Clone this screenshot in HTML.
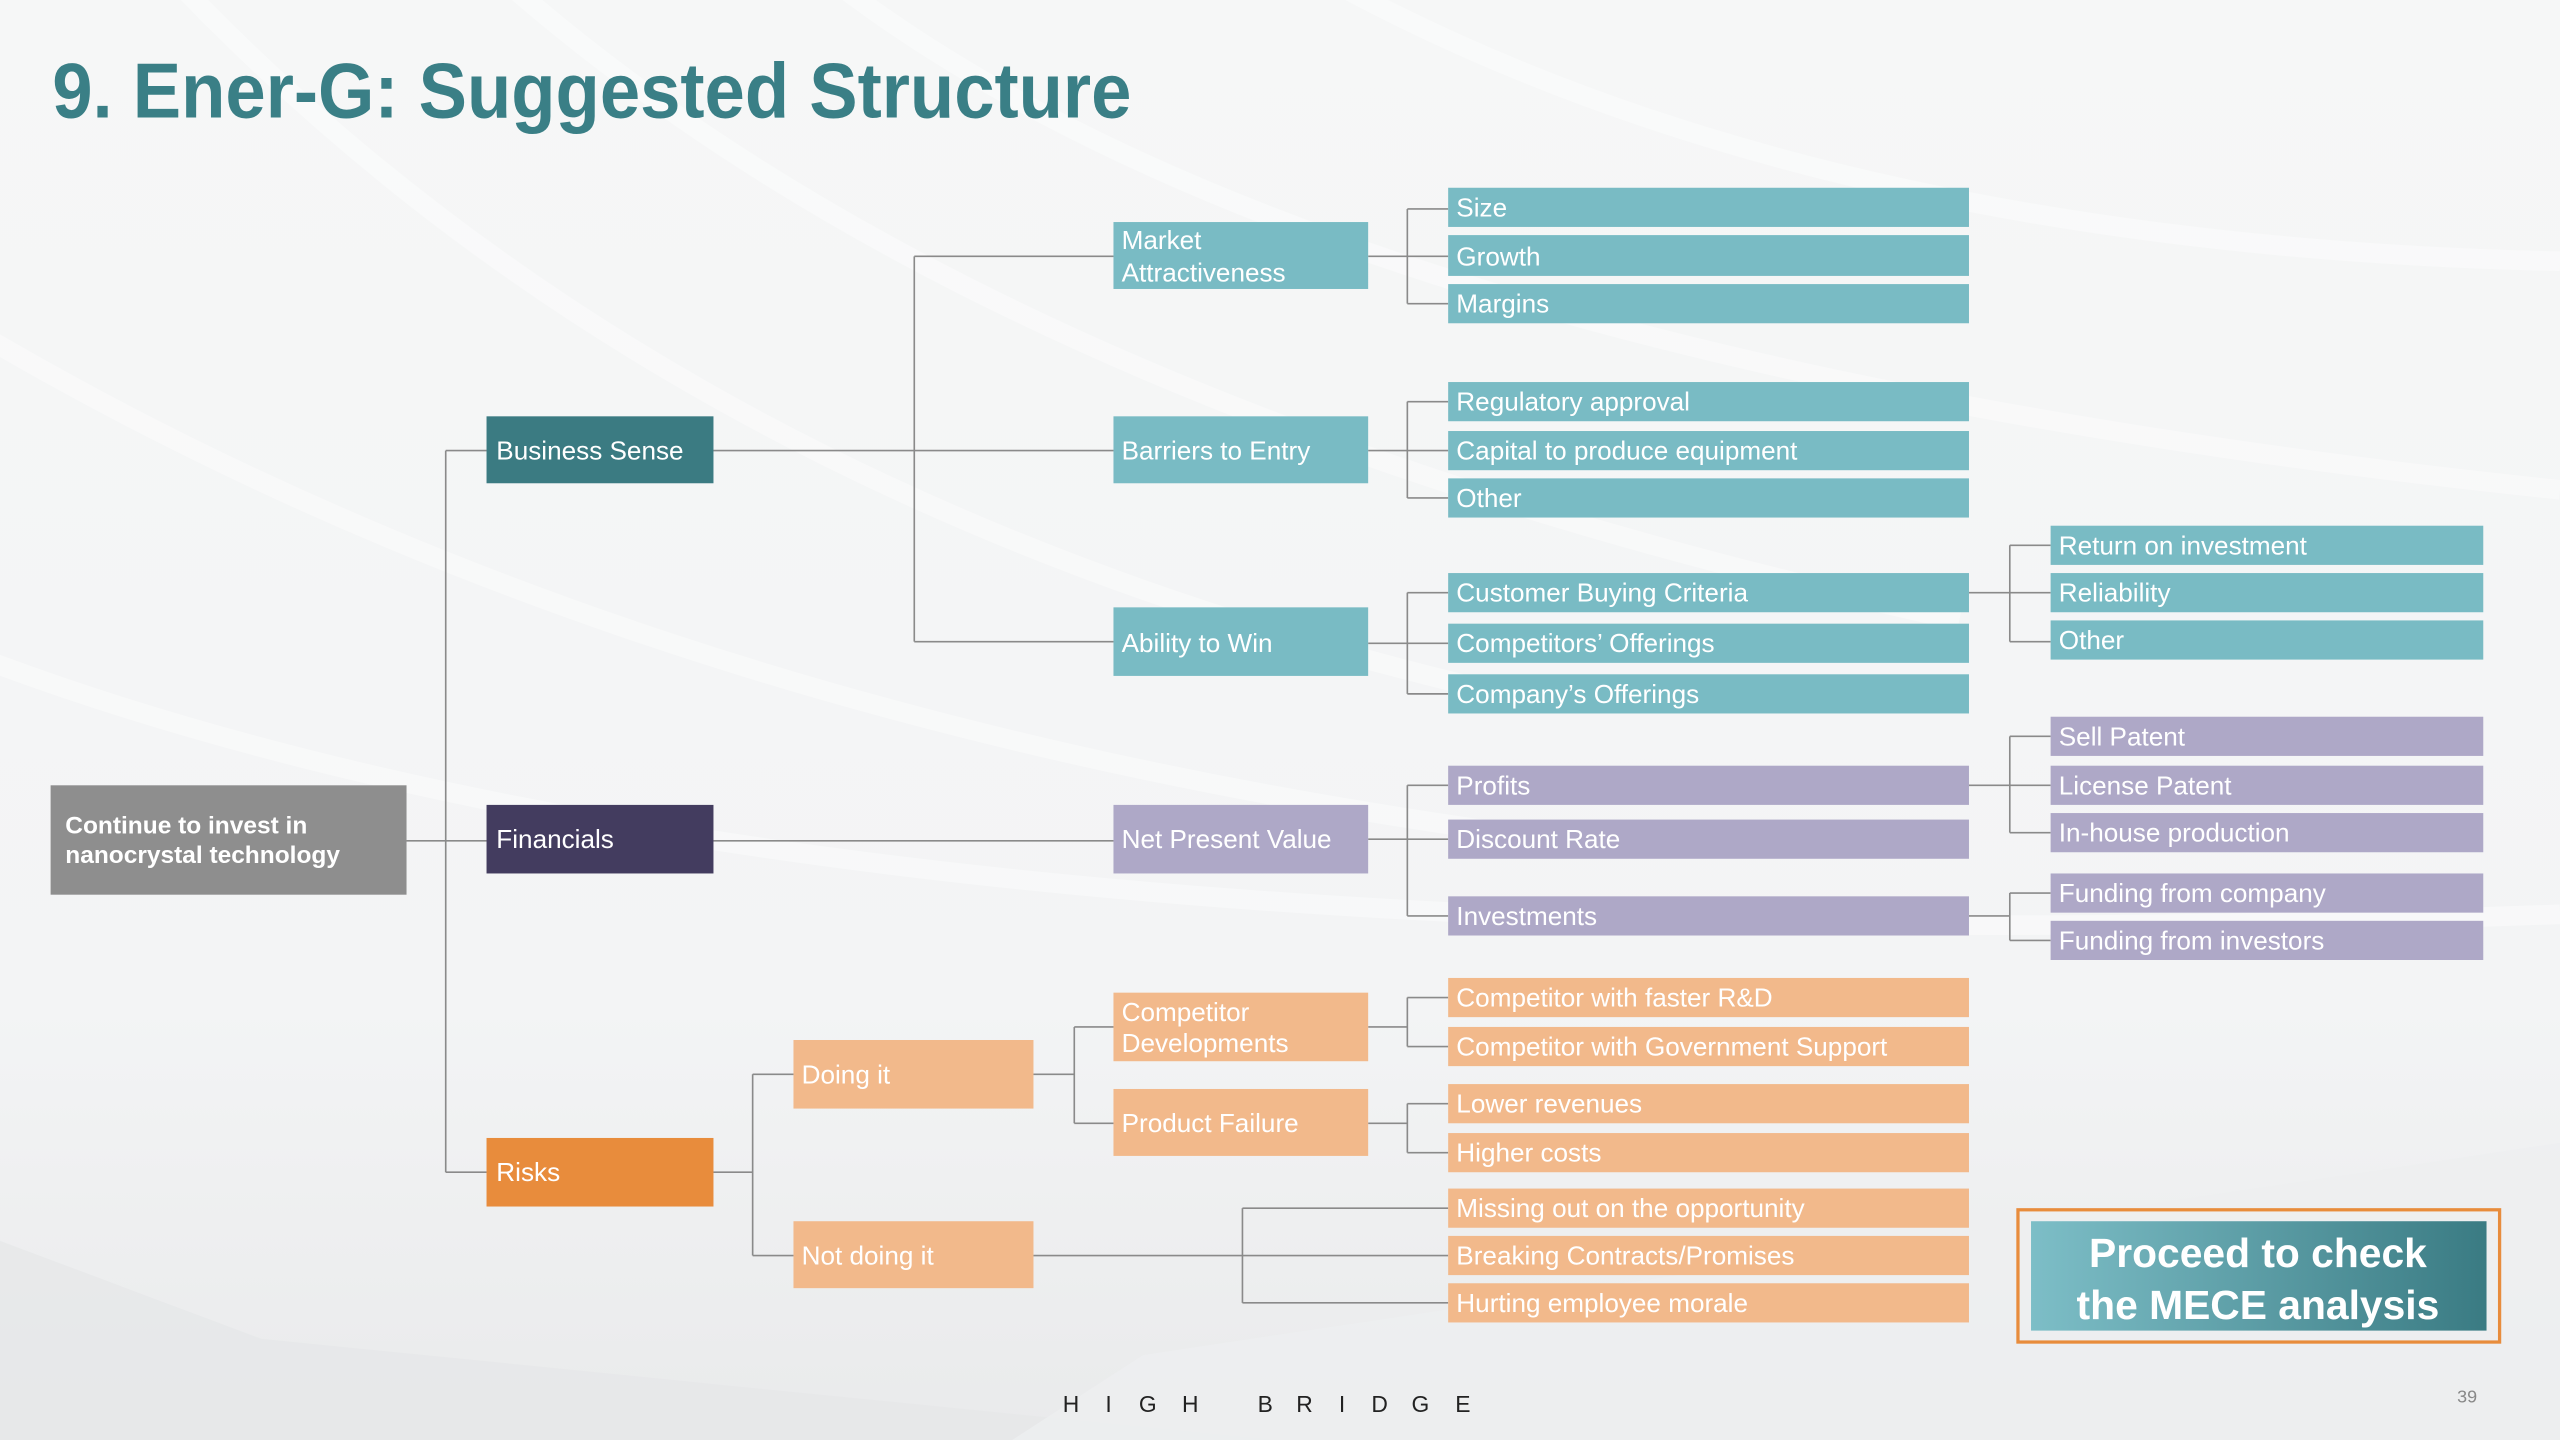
<!DOCTYPE html>
<html><head><meta charset="utf-8"><style>
html,body{margin:0;padding:0;width:2560px;height:1440px;overflow:hidden;background:#f3f4f5}
svg{display:block}
text{font-family:"Liberation Sans",sans-serif}
</style></head><body>
<svg width="2560" height="1440" viewBox="0 0 1568 882" xmlns="http://www.w3.org/2000/svg">
<defs>
<linearGradient id="bg" x1="0" y1="0" x2="0" y2="1">
<stop offset="0" stop-color="#f6f7f7"/><stop offset="0.7" stop-color="#f3f4f5"/><stop offset="1" stop-color="#e9eaeb"/>
</linearGradient>
<linearGradient id="btn" x1="0" y1="0" x2="1" y2="0">
<stop offset="0" stop-color="#7dbec7"/><stop offset="1" stop-color="#3a7b83"/>
</linearGradient>
</defs>
<rect width="1568" height="882" fill="url(#bg)"/>
<g stroke="#ffffff" stroke-width="12" fill="none" opacity="0.4">
<path d="M100 -20 Q400 300 900 420"/><path d="M300 -20 Q600 250 1200 380"/>
<path d="M500 -20 Q800 220 1568 300"/><path d="M-20 200 Q400 450 1000 520"/>
<path d="M-20 400 Q500 600 1568 560"/><path d="M800 -20 Q1100 150 1568 160"/>
</g>
<path d="M0 760 L160 820 L780 882 L0 882Z" fill="#e6e7e8" opacity="0.7"/>
<path d="M620 882 L700 830 L1568 700 L1568 882Z" fill="#eeeff0" opacity="0.8"/>

<text x="32" y="72" font-size="48" font-weight="bold" fill="#3a7f86" textLength="661" lengthAdjust="spacingAndGlyphs">9. Ener-G: Suggested Structure</text>

<g stroke="#8a8a8a" stroke-width="1" fill="none">
<path d="M249 515H298M273 276V718M273 276H298M273 718H298"/>
<path d="M437 276H682M560 157V393M560 157H682M560 393H682"/>
<path d="M838 157H862M862 128V186M862 128H887M862 157H887M862 186H887"/>
<path d="M838 276H862M862 246V305M862 246H887M862 276H887M862 305H887"/>
<path d="M838 394H862M862 363V425M862 363H887M862 394H887M862 425H887"/>
<path d="M1206 363H1256M1231 334V393M1231 334H1256M1231 393H1256"/>
<path d="M437 515H682M838 514H887M862 481V561M862 481H887M862 561H887"/>
<path d="M1206 481H1256M1231 451V510M1231 451H1256M1231 510H1256"/>
<path d="M1206 561H1231M1231 547V576M1231 547H1256M1231 576H1256"/>
<path d="M437 718H461M461 658V769M461 658H486M461 769H486"/>
<path d="M633 658H658M658 629V688M658 629H682M658 688H682"/>
<path d="M838 629H862M862 611V641M862 611H887M862 641H887"/>
<path d="M838 688H862M862 676V706M862 676H887M862 706H887"/>
<path d="M633 769H887M761 740V798M761 740H887M761 798H887"/>
</g>

<g font-size="16" fill="#fff" dominant-baseline="central">
<rect x="31" y="481" width="218" height="67" fill="#8e8e8e"/>
<text x="40" y="506" font-weight="bold" font-size="15">Continue to invest in</text>
<text x="40" y="524" font-weight="bold" font-size="15">nanocrystal technology</text>

<rect x="298" y="255" width="139" height="41" fill="#3b7b82"/><text x="304" y="276">Business Sense</text>
<rect x="298" y="493" width="139" height="42" fill="#433c5f"/><text x="304" y="514">Financials</text>
<rect x="298" y="697" width="139" height="42" fill="#e88c3c"/><text x="304" y="718">Risks</text>

<g fill="#79bbc4">
<rect x="682" y="136" width="156" height="41"/><rect x="682" y="255" width="156" height="41"/><rect x="682" y="372" width="156" height="42"/>
<rect x="887" y="115" width="319" height="24"/><rect x="887" y="144" width="319" height="25"/><rect x="887" y="174" width="319" height="24"/>
<rect x="887" y="234" width="319" height="24"/><rect x="887" y="264" width="319" height="24"/><rect x="887" y="293" width="319" height="24"/>
<rect x="887" y="351" width="319" height="24"/><rect x="887" y="382" width="319" height="24"/><rect x="887" y="413" width="319" height="24"/>
<rect x="1256" y="322" width="265" height="24"/><rect x="1256" y="351" width="265" height="24"/><rect x="1256" y="380" width="265" height="24"/>
</g>
<g fill="#aea8c7">
<rect x="682" y="493" width="156" height="42"/>
<rect x="887" y="469" width="319" height="24"/><rect x="887" y="502" width="319" height="24"/><rect x="887" y="549" width="319" height="24"/>
<rect x="1256" y="439" width="265" height="24"/><rect x="1256" y="469" width="265" height="24"/><rect x="1256" y="498" width="265" height="24"/>
<rect x="1256" y="535" width="265" height="24"/><rect x="1256" y="564" width="265" height="24"/>
</g>
<g fill="#f2b98b">
<rect x="486" y="637" width="147" height="42"/><rect x="486" y="748" width="147" height="41"/>
<rect x="682" y="608" width="156" height="42"/><rect x="682" y="667" width="156" height="41"/>
<rect x="887" y="599" width="319" height="24"/><rect x="887" y="629" width="319" height="24"/>
<rect x="887" y="664" width="319" height="24"/><rect x="887" y="694" width="319" height="24"/>
<rect x="887" y="728" width="319" height="24"/><rect x="887" y="757" width="319" height="24"/><rect x="887" y="786" width="319" height="24"/>
</g>

<text x="687" y="147">Market</text><text x="687" y="167">Attractiveness</text>
<text x="687" y="276">Barriers to Entry</text>
<text x="687" y="394">Ability to Win</text>
<text x="687" y="514">Net Present Value</text>
<text x="491" y="658">Doing it</text>
<text x="491" y="769">Not doing it</text>
<text x="687" y="620">Competitor</text><text x="687" y="639">Developments</text>
<text x="687" y="688">Product Failure</text>

<text x="892" y="127">Size</text><text x="892" y="157">Growth</text><text x="892" y="186">Margins</text>
<text x="892" y="246">Regulatory approval</text><text x="892" y="276">Capital to produce equipment</text><text x="892" y="305">Other</text>
<text x="892" y="363">Customer Buying Criteria</text><text x="892" y="394">Competitors’ Offerings</text><text x="892" y="425">Company’s Offerings</text>
<text x="1261" y="334">Return on investment</text><text x="1261" y="363">Reliability</text><text x="1261" y="392">Other</text>
<text x="892" y="481">Profits</text><text x="892" y="514">Discount Rate</text><text x="892" y="561">Investments</text>
<text x="1261" y="451">Sell Patent</text><text x="1261" y="481">License Patent</text><text x="1261" y="510">In-house production</text>
<text x="1261" y="547">Funding from company</text><text x="1261" y="576">Funding from investors</text>
<text x="892" y="611">Competitor with faster R&amp;D</text><text x="892" y="641">Competitor with Government Support</text>
<text x="892" y="676">Lower revenues</text><text x="892" y="706">Higher costs</text>
<text x="892" y="740">Missing out on the opportunity</text><text x="892" y="769">Breaking Contracts/Promises</text><text x="892" y="798">Hurting employee morale</text>
</g>

<rect x="1236" y="741" width="295" height="81" fill="none" stroke="#e88c3c" stroke-width="2"/>
<rect x="1244" y="748" width="279" height="67" fill="url(#btn)"/>
<text x="1383" y="776" font-size="25" font-weight="bold" fill="#fff" text-anchor="middle">Proceed to check</text>
<text x="1383" y="808" font-size="25" font-weight="bold" fill="#fff" text-anchor="middle">the MECE analysis</text>

<g font-size="14" fill="#222" text-anchor="middle">
<text x="656" y="865">H</text><text x="679" y="865">I</text><text x="703" y="865">G</text><text x="729" y="865">H</text>
<text x="775" y="865">B</text><text x="799" y="865">R</text><text x="822" y="865">I</text><text x="845" y="865">D</text><text x="870" y="865">G</text><text x="896" y="865">E</text>
</g>
<text x="1505" y="859" font-size="11" fill="#888">39</text>
</svg>
</body></html>
